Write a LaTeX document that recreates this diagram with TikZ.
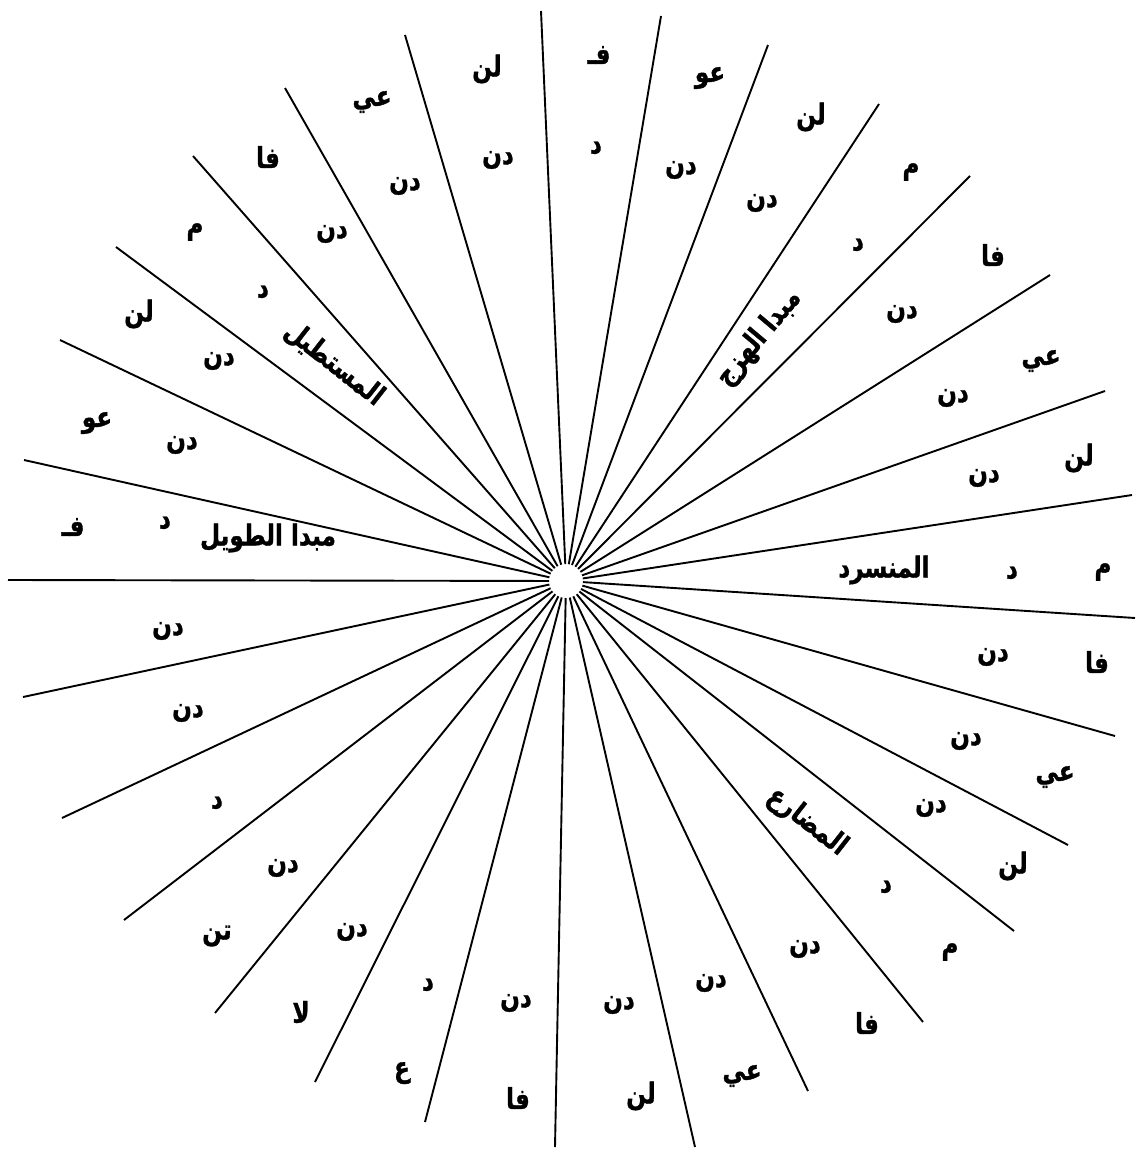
\documentclass[tikz,border=0pt]{standalone}
\usepackage{fontspec}
\usepackage{graphicx}
\usetikzlibrary{calc}
\TeXXeTstate=1
\newfontfamily\arfont[Script=Arabic,BoldFeatures={FakeBold=1.2}]{DejaVu Sans}
\newcommand{\AR}[1]{\scalebox{1.05}[1.3]{\arfont\bfseries\beginR #1\endR}}
\tikzset{
  spoke/.style={line width=1.9pt, black},
  lbl/.style={font=\fontsize{22}{24}\selectfont, inner sep=0pt, text=black},
}
\begin{document}
\begin{tikzpicture}[x=1pt,y=-1pt]
\useasboundingbox (0,0) rectangle (1140,1162);
\coordinate (c) at (566,581);
% spoke ends
\coordinate (e1) at (541,11);
\coordinate (e2) at (661,16);
\coordinate (e3) at (768,45);
\coordinate (e4) at (879,104);
\coordinate (e5) at (970,176);
\coordinate (e6) at (1050,275);
\coordinate (e7) at (1105,391);
\coordinate (e8) at (1132,495);
\coordinate (e9) at (1135,618);
\coordinate (e10) at (1115,736);
\coordinate (e11) at (1068,845);
\coordinate (e12) at (1014,931);
\coordinate (e13) at (923,1022);
\coordinate (e14) at (808,1091);
\coordinate (e15) at (695,1147);
\coordinate (e16) at (555,1147);
\coordinate (e17) at (425,1122);
\coordinate (e18) at (315,1082);
\coordinate (e19) at (215,1013);
\coordinate (e20) at (124,920);
\coordinate (e21) at (62,818);
\coordinate (e22) at (23,697);
\coordinate (e23) at (8,580);
\coordinate (e24) at (24,460);
\coordinate (e25) at (60,340);
\coordinate (e26) at (116,247);
\coordinate (e27) at (193,156);
\coordinate (e28) at (285,88);
\coordinate (e29) at (405,35);
\foreach \i in {1,...,29}{
  \draw[spoke] ($(c)!17pt!(e\i)$) -- (e\i);
}
% labels
\node[lbl] (t1) at (487,69) {\AR{لن}};
\node[lbl] (t2) at (498,160) {\AR{دن}};
\node[lbl] (t3) at (599,55) {\AR{فـ}};
\node[lbl] (t4) at (596,148) {\AR{د}};
\node[lbl] (t5) at (710,78) {\AR{عو}};
\node[lbl] (t6) at (681,170) {\AR{دن}};
\node[lbl] (t7) at (811,117) {\AR{لن}};
\node[lbl] (t8) at (762,203) {\AR{دن}};
\node[lbl] (t9) at (911,172) {\AR{م}};
\node[lbl] (t10) at (858,245) {\AR{د}};
\node[lbl,rotate=50] (t11) at (759,338) {\AR{مبدا الهزج}};
\node[lbl] (t12) at (993,255) {\AR{فا}};
\node[lbl] (t13) at (902,314) {\AR{دن}};
\node[lbl] (t14) at (1041,361) {\AR{عي}};
\node[lbl] (t15) at (953,398) {\AR{دن}};
\node[lbl] (t16) at (1079,458) {\AR{لن}};
\node[lbl] (t17) at (984,478) {\AR{دن}};
\node[lbl] (t18) at (1103,572) {\AR{م}};
\node[lbl] (t19) at (1012,573) {\AR{د}};
\node[lbl] (t20) at (884,570) {\AR{المنسرد}};
\node[lbl] (t21) at (1097,662) {\AR{فا}};
\node[lbl] (t22) at (993,657) {\AR{دن}};
\node[lbl] (t23) at (1055,777) {\AR{عي}};
\node[lbl] (t24) at (966,741) {\AR{دن}};
\node[lbl] (t25) at (1013,866) {\AR{لن}};
\node[lbl] (t26) at (931,808) {\AR{دن}};
\node[lbl] (t27) at (950,952) {\AR{م}};
\node[lbl] (t28) at (886,887) {\AR{د}};
\node[lbl,rotate=-38] (t29) at (807,822) {\AR{المضارع}};
\node[lbl] (t30) at (867,1023) {\AR{فا}};
\node[lbl] (t31) at (805,949) {\AR{دن}};
\node[lbl] (t32) at (742,1076) {\AR{عي}};
\node[lbl] (t33) at (711,983) {\AR{دن}};
\node[lbl] (t34) at (641,1096) {\AR{لن}};
\node[lbl] (t35) at (619,1005) {\AR{دن}};
\node[lbl] (t36) at (518,1098) {\AR{فا}};
\node[lbl] (t37) at (516,1003) {\AR{دن}};
\node[lbl] (t38) at (402,1073) {\AR{ع}};
\node[lbl] (t39) at (428,985) {\AR{د}};
\node[lbl] (t40) at (301,1012) {\AR{لا}};
\node[lbl] (t41) at (352,932) {\AR{دن}};
\node[lbl] (t42) at (217,936) {\AR{تن}};
\node[lbl] (t43) at (283,868) {\AR{دن}};
\node[lbl] (t44) at (217,803) {\AR{د}};
\node[lbl] (t45) at (188,713) {\AR{دن}};
\node[lbl] (t46) at (168,631) {\AR{دن}};
\node[lbl] (t47) at (73,527) {\AR{فـ}};
\node[lbl] (t48) at (165,523) {\AR{د}};
\node[lbl] (t49) at (268,538) {\AR{مبدا الطويل}};
\node[lbl] (t50) at (97,423) {\AR{عو}};
\node[lbl] (t51) at (182,445) {\AR{دن}};
\node[lbl] (t52) at (139,314) {\AR{لن}};
\node[lbl] (t53) at (219,361) {\AR{دن}};
\node[lbl] (t54) at (195,232) {\AR{م}};
\node[lbl] (t55) at (263,292) {\AR{د}};
\node[lbl,rotate=-38] (t56) at (334,364) {\AR{المستطيل}};
\node[lbl] (t57) at (268,157) {\AR{فا}};
\node[lbl] (t58) at (332,234) {\AR{دن}};
\node[lbl] (t59) at (372,102) {\AR{عي}};
\node[lbl] (t60) at (405,186) {\AR{دن}};
\end{tikzpicture}
\end{document}
